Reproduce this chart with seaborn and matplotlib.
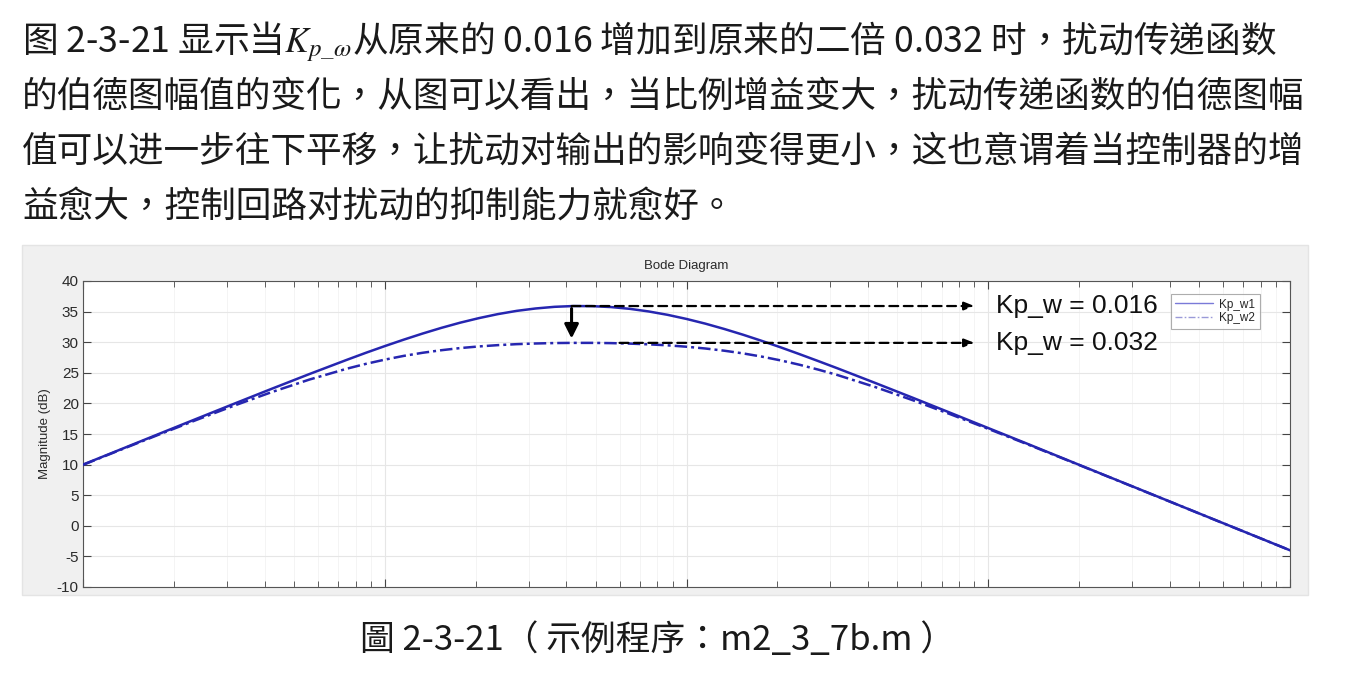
import numpy as np
import pandas as pd
import matplotlib
matplotlib.use("Agg")
import matplotlib.pyplot as plt
from matplotlib.patches import Rectangle
from matplotlib.lines import Line2D
import seaborn as sns

# ==========================================
# Data
# ==========================================

freq = [1, 1.334, 1.778, 2.371, 3.162, 4.217, 5.623, 7.499,
        8.660, 10, 11.55, 13.34, 15.40, 17.78, 20.54, 23.71,
        27.38, 31.62, 36.52, 42.17, 48.70, 56.23, 64.94, 74.99,
        86.60, 100, 115.5, 133.4, 154.0, 177.8, 205.4, 237.1,
        273.8, 316.2, 421.7, 562.3, 749.9, 1000, 1334, 1778,
        2371, 3162, 4217, 5623, 7499, 10000]

kp_w1_db = [10.00, 12.49, 14.98, 17.46, 19.93, 22.38, 24.79, 27.13,
            28.27, 29.36, 30.41, 31.41, 32.34, 33.19, 33.94, 34.59,
            35.12, 35.51, 35.78, 35.91, 35.89, 35.74, 35.45, 35.02,
            34.47, 33.80, 33.03, 32.16, 31.22, 30.21, 29.15, 28.04,
            26.90, 25.74, 23.35, 20.92, 18.45, 15.97, 13.49, 10.99,
            8.49, 6.00, 3.50, 1.00, -1.50, -4.00]

kp_w2_db = [9.96, 12.43, 14.87, 17.28, 19.62, 21.84, 23.89, 25.68,
            26.46, 27.15, 27.76, 28.27, 28.69, 29.04, 29.31, 29.52,
            29.68, 29.79, 29.86, 29.89, 29.89, 29.85, 29.77, 29.65,
            29.49, 29.26, 28.97, 28.61, 28.17, 27.64, 27.02, 26.31,
            25.51, 24.64, 22.68, 20.52, 18.22, 15.84, 13.41, 10.95,
            8.47, 5.98, 3.49, 0.99, -1.50, -4.00]

series_names = ["Kp_w1", "Kp_w2"]
kp_values = ["0.016", "0.032"]
y_ticks = list(range(-10, 45, 5))

paragraph = [
    "图 2-3-21 显示当$K_{p\\_\\omega}$从原来的 0.016 增加到原来的二倍 0.032 时，扰动传递函数",
    "的伯德图幅值的变化，从图可以看出，当比例增益变大，扰动传递函数的伯德图幅",
    "值可以进一步往下平移，让扰动对输出的影响变得更小，这也意谓着当控制器的增",
    "益愈大，控制回路对扰动的抑制能力就愈好。",
]
caption = "圖 2-3-21（ 示例程序：m2_3_7b.m ）"

df = pd.DataFrame({
    "freq": freq * 2,
    "mag": kp_w1_db + kp_w2_db,
    "series": [series_names[0]] * len(freq) + [series_names[1]] * len(freq),
})

# ==========================================
# Style
# ==========================================

sns.set_theme(style="white")
plt.rcParams["font.family"] = ["Noto Sans CJK TC", "DejaVu Sans"]
plt.rcParams["mathtext.fontset"] = "stix"

W, H = 1365, 680
fig = plt.figure(figsize=(W / 100, H / 100), dpi=100)
fig.patch.set_facecolor("white")

# grey MATLAB figure panel
panel = Rectangle((22 / W, 1 - 595 / H), (1308 - 22) / W, (595 - 245) / H,
                  transform=fig.transFigure, facecolor="#f0f0f0",
                  edgecolor="#e4e4e4", zorder=-5)
fig.patches.append(panel)

ax = fig.add_axes([83 / W, 1 - 587 / H, (1290 - 83) / W, (587 - 281) / H])
ax.set_zorder(2)
ax.set_facecolor("white")

blue = "#2626b0"
sns.lineplot(data=df, x="freq", y="mag", hue="series", style="series",
             palette=[blue, blue],
             dashes={"Kp_w1": "", "Kp_w2": (5, 1.6, 1.2, 1.6)},
             linewidth=1.8, ax=ax, legend=False, zorder=3)

ax.set_xscale("log")
ax.set_xlim(freq[0], freq[-1])
ax.set_ylim(-10, 40)
ax.set_yticks(y_ticks)
ax.set_yticklabels([str(t) for t in y_ticks], fontsize=11, color="#2a2a2a",
                   family="Liberation Sans")
ax.xaxis.set_major_locator(matplotlib.ticker.LogLocator(base=10))
ax.xaxis.set_minor_locator(matplotlib.ticker.LogLocator(base=10, subs=np.arange(2, 10)))
ax.xaxis.set_major_formatter(matplotlib.ticker.NullFormatter())
ax.xaxis.set_minor_formatter(matplotlib.ticker.NullFormatter())
ax.tick_params(which="both", direction="in", top=True, right=True,
               bottom=True, left=True, color="#444444")
ax.tick_params(which="major", length=6, width=0.8, pad=3)
ax.tick_params(which="minor", length=4, width=0.6)
ax.grid(True, which="major", color="#e6e6e6", linewidth=0.8)
ax.grid(True, which="minor", axis="x", color="#f2f2f2", linewidth=0.6)
ax.set_axisbelow(True)
for sp in ax.spines.values():
    sp.set_color("#555555")
    sp.set_linewidth(0.8)

ax.set_xlabel("")
ax.set_ylabel("Magnitude (dB)", fontsize=9.5, color="#2a2a2a",
              family="Liberation Sans", labelpad=4)
ax.set_title("Bode Diagram", fontsize=9.5, color="#2a2a2a",
             family="Liberation Sans", pad=9)

# legend in the MATLAB style
handles = [Line2D([], [], color="#7a7ad8", lw=1.0, linestyle="-"),
           Line2D([], [], color="#9a9ad8", lw=1.0, linestyle=(0, (5, 1.6, 1.2, 1.6)))]
leg = ax.legend(handles, series_names, loc="upper right",
                bbox_to_anchor=(0.975, 0.958), borderaxespad=0, frameon=True,
                fancybox=False, handlelength=3.2, borderpad=0.4,
                labelspacing=0.15, handletextpad=0.5,
                prop={"family": "Liberation Sans", "size": 8.5})
leg.get_frame().set_edgecolor("#999999")
leg.get_frame().set_linewidth(0.8)

# ==========================================
# Annotations (dashed arrows to the peaks)
# ==========================================

peaks = [max(kp_w1_db), max(kp_w2_db)]
starts = [41.6, 60]
for peak, start, kp in zip(peaks, starts, kp_values):
    ax.annotate("", xy=(900, peak), xytext=(start, peak),
                arrowprops=dict(arrowstyle="-|>,head_length=0.5,head_width=0.2",
                                color="black", lw=1.6, linestyle=(0, (4, 2.5)),
                                shrinkA=0, shrinkB=0), zorder=4)
    ax.text(1059, peak, "Kp_w = " + kp, fontsize=19, va="center", ha="left",
            family="Liberation Sans", color="#111111", zorder=5)

ax.annotate("", xy=(41.6, 30.6), xytext=(41.6, 35.5),
            arrowprops=dict(arrowstyle="-|>,head_length=0.7,head_width=0.35",
                            color="black", lw=2.2, shrinkA=0, shrinkB=0), zorder=4)

# ==========================================
# Surrounding text
# ==========================================

baselines = [52, 107, 162, 217]
for line, yb in zip(paragraph, baselines):
    fig.text(22 / W, 1 - yb / H, line, fontsize=25.7, color="#1a1a1a",
             ha="left", va="baseline")

fig.text(657 / W, 1 - 650 / H, caption, fontsize=25, color="#1a1a1a",
         ha="center", va="baseline")

plt.savefig("out.png", dpi=100)
